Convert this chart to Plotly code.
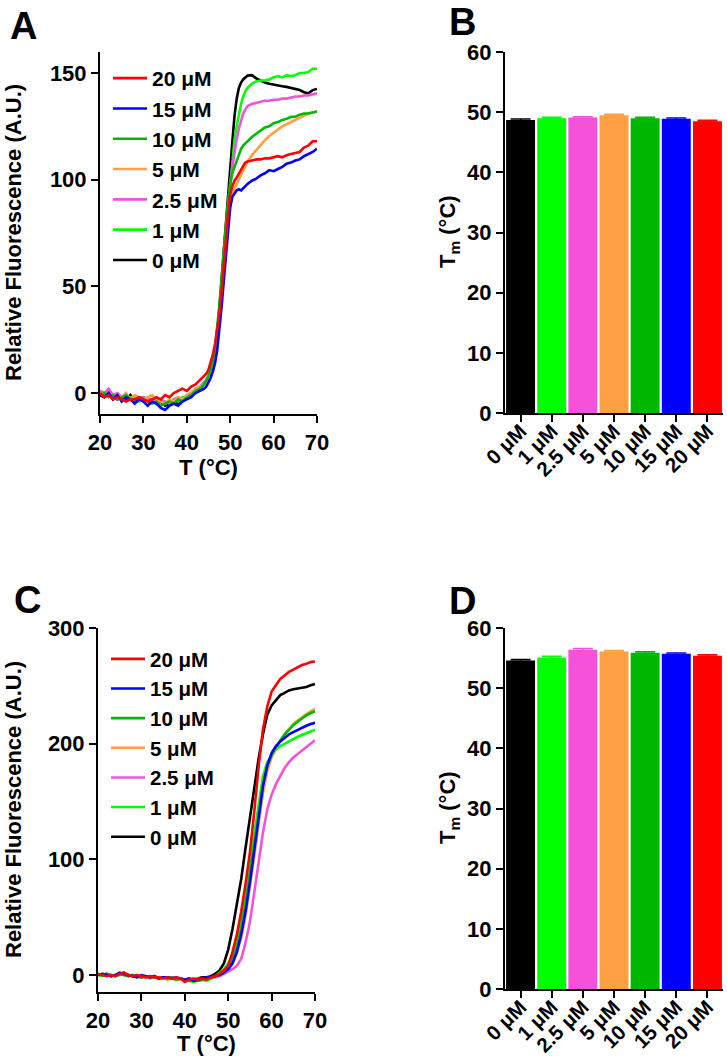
import plotly.graph_objects as go

FONT = "Liberation Sans"
labels = ["0 μM", "1 μM", "2.5 μM", "5 μM", "10 μM", "15 μM", "20 μM"]
colors = ["#000000", "#00ff00", "#f452d8", "#ffa044", "#00b800", "#0000ff", "#ff0000"]

# ---- Panel A: melting curves ----
T_A = [20, 21, 22, 23, 24, 25, 26, 27, 28, 29, 30, 31, 32, 33, 34, 35, 36, 37, 38, 39, 40, 41, 42, 43, 44,
       44.5, 45, 45.5, 46, 46.5, 47, 47.5, 48, 48.5, 49, 49.5, 50, 50.5, 51, 51.5, 52, 52.5, 53, 53.5, 54,
       55, 56, 57, 58, 59, 60, 61, 62, 63, 64, 65, 66, 67, 68, 69, 70]
A_0 = [-1, -2, 0, -1, -3, -2, -3, -1, -4, -3, -2, -4, -3, -5, -4, -6, -5, -4, -5, -3, -2, -1, 1, 2, 4,
       5, 7, 9, 13, 18, 27, 38, 52, 66, 80, 92, 105, 118, 130, 138, 143, 145.5, 147, 148, 148.8,
       149, 147.5, 146.5, 145.5, 145, 144.5, 144, 143.8, 143.5, 143, 142.5, 142, 141, 140.5, 142, 142.5]
A_1 = [0, -1, 1, -2, -1, -3, -2, -2, -3, -4, -3, -2, -4, -5, -3, -5, -4, -3, -4, -2, -2, 0, 1, 3, 4,
       5, 7, 10, 14, 20, 28, 38, 51, 64, 76, 85, 96, 110, 119, 125, 131, 135.5, 139, 141.5, 143,
       145, 146, 146.5, 146.5, 147, 148, 148.5, 148, 149, 148.5, 149, 150, 150, 150.5, 152, 152]
A_2p5 = [1, 0, 2, -1, 0, -2, -1, -3, -2, -3, -2, -3, -3, -4, -3, -4, -5, -3, -2, -3, -1, 0, 2, 3, 5,
         6, 8, 10, 14, 19, 27, 37, 50, 63, 76, 88, 98, 106, 113, 119, 124, 128, 131, 133, 134.5,
         135.5, 136, 136.5, 137, 137, 137.5, 137.5, 138, 138, 138.5, 139, 139, 139.5, 139.5, 140, 140.5]
A_5 = [0, -1, 0, -2, -1, -2, 0, -3, -1, -2, -3, -2, -1, -3, -4, -5, -3, -4, -2, -3, -1, 0, 2, 3, 4,
       5, 6, 8, 11, 16, 23, 33, 45, 58, 71, 82, 89, 93, 96, 98, 100, 102, 104, 106, 108.5,
       111.5, 114, 116, 118.5, 120.5, 122, 123.5, 125, 126, 127, 128, 129, 130, 131, 131.5, 132]
A_10 = [-1, 0, -2, -1, -3, -2, -1, -3, -4, -2, -3, -4, -5, -4, -6, -5, -4, -5, -3, -4, -2, -1, 1, 2, 4,
        6, 8, 11, 15, 21, 30, 41, 54, 67, 80, 90, 98, 103, 106, 109, 112, 114.5, 116, 117, 118,
        120, 121.5, 123, 124.5, 125, 126.5, 127, 128, 128.5, 129.5, 129.5, 130.5, 131, 131, 131.5, 132]
A_15 = [-1, -2, 0, -3, -1, -4, -2, -3, -5, -3, -4, -6, -4, -5, -7, -8, -6, -5, -6, -4, -3, -2, 0, 1, 2,
        3, 5, 7, 10, 14, 20, 29, 40, 52, 65, 77, 87, 92, 93.5, 95, 95.5, 95, 96, 97, 98,
        99.5, 100.5, 102, 103, 104.5, 104, 105, 106, 107.5, 108, 109, 109.5, 111, 112, 113, 114.5]
A_20 = [0, -2, -1, -3, -2, -3, -4, -3, -3, -2, -3, -4, -3, -2, -3, -1, -2, 0, 1, 2, 1, 3, 4, 6, 8,
        9, 11, 14, 18, 23, 29, 37, 47, 58, 71, 84, 93, 97, 99.5, 101, 103, 105, 106.5, 108, 108.5,
        109, 109.5, 109.5, 110, 110, 110.5, 111, 110.5, 111.5, 112, 112.5, 113, 115, 116, 118, 118]

# ---- Panel C: melting curves ----
T_C = [20, 21, 22, 23, 24, 25, 26, 27, 28, 29, 30, 31, 32, 33, 34, 35, 36, 37, 38, 39, 40, 41, 42, 43, 44,
       45, 46, 47, 48, 49, 50, 51, 52, 53, 54, 55, 56, 57, 58, 59, 60, 61, 62, 63, 64, 65, 66, 67, 68, 69, 70]
C_0 = [1, 0, 1, -1, 0, 1, 2, 0, -1, 0, -2, -1, -2, -1, -3, -2, -3, -2, -4, -3, -4, -3, -4, -3, -2, -2, -1, 1,
       4, 10, 22, 40, 61, 83, 110, 137, 163, 187, 208, 225, 233, 238, 242, 244, 246, 247, 247.5, 248.5, 249, 250.5, 251.5]
C_1 = [0, -1, 1, 0, -1, 0, 1, -1, 0, -2, -1, -2, -3, -2, -3, -2, -4, -3, -4, -3, -4, -5, -6, -5, -4, -5, -3, -1,
       2, 5, 10, 18, 31, 49, 71, 97, 124, 150, 172, 184, 190, 195, 198, 200, 202.5, 204, 206, 207.5, 209, 211, 212]
C_2p5 = [1, 0, 1, -1, 0, 1, 0, -1, 0, -1, -2, -1, -2, -1, -3, -2, -3, -2, -3, -4, -4, -3, -4, -3, -4, -3, -3, -2,
         -1, 1, 3, 5, 8, 14, 28, 46, 71, 98, 123, 143, 156, 165, 172, 179, 184, 188, 191, 194, 197, 200, 203]
C_5 = [0, 1, 0, -1, 0, 1, 2, 0, 0, -1, -1, -2, -1, -2, -2, -3, -2, -3, -3, -4, -4, -4, -3, -4, -4, -3, -2, -2,
       0, 2, 5, 10, 19, 32, 51, 75, 102, 130, 157, 176, 188, 196, 203, 208, 213, 217, 220, 223, 225.5, 228, 230]
C_10 = [1, 0, 1, 0, -1, 1, 0, -1, 0, -1, -2, -1, -1, -2, -3, -2, -3, -2, -4, -3, -4, -5, -4, -5, -4, -3, -2, -1,
        1, 3, 7, 13, 24, 40, 61, 86, 112, 140, 165, 181, 190, 197, 203, 208, 212, 216, 219, 222, 224.5, 226.5, 228]
C_15 = [0, 1, 0, -1, 0, 2, 1, 0, -1, -2, 0, -1, -2, -1, -3, -2, -2, -3, -2, -3, -4, -3, -5, -4, -3, -2, -2, -1,
        0, 2, 5, 10, 20, 35, 55, 80, 106, 135, 163, 181, 192, 198, 202, 205, 208, 210, 212, 214, 215.5, 217, 218]
C_20 = [1, 0, -1, 0, -1, 1, 2, 0, -1, 0, -1, -2, -1, -2, -2, -3, -2, -3, -2, -3, -6, -4, -3, -4, -3, -4, -2, -1,
        1, 4, 8, 20, 35, 55, 79, 106, 141, 180, 212, 232, 245, 251, 256, 259, 262, 264, 266, 268, 269, 270.5, 271]

# ---- Panels B and D: Tm bars ----
TM_B = [48.7, 49.0, 49.1, 49.5, 49.0, 48.9, 48.5]
TM_B_ERR = [0.15, 0.15, 0.15, 0.15, 0.15, 0.15, 0.15]
TM_D = [54.6, 55.1, 56.4, 56.1, 55.9, 55.7, 55.4]
TM_D_ERR = [0.15, 0.2, 0.2, 0.15, 0.15, 0.15, 0.15]

curves_A = [A_0, A_1, A_2p5, A_5, A_10, A_15, A_20]
curves_C = [C_0, C_1, C_2p5, C_5, C_10, C_15, C_20]

W, H = 727, 1058
def px(x):
    return x / W
def py(y):
    return 1 - y / H

fig = go.Figure()
for i in range(7):
    fig.add_trace(go.Scatter(x=T_A, y=curves_A[i], mode="lines", name=labels[i],
                             line=dict(color=colors[i], width=2.6), xaxis="x", yaxis="y",
                             legend="legend"))
for i in range(7):
    fig.add_trace(go.Scatter(x=T_C, y=curves_C[i], mode="lines", name=labels[i],
                             line=dict(color=colors[i], width=2.6), xaxis="x3", yaxis="y3",
                             legend="legend2"))
for i in range(7):
    fig.add_trace(go.Bar(x=[i], y=[TM_B[i]], width=0.93, marker=dict(color=colors[i], line=dict(width=0)),
                         error_y=dict(type="data", array=[TM_B_ERR[i]], color=colors[i], thickness=1.5, width=10),
                         xaxis="x2", yaxis="y2", showlegend=False))
    fig.add_trace(go.Bar(x=[i], y=[TM_D[i]], width=0.93, marker=dict(color=colors[i], line=dict(width=0)),
                         error_y=dict(type="data", array=[TM_D_ERR[i]], color=colors[i], thickness=1.5, width=10),
                         xaxis="x4", yaxis="y4", showlegend=False))

tickfont = dict(family=FONT, size=22, color="black", weight="bold")
bar_tickfont = dict(family=FONT, size=20.5, color="black", weight="bold")
common = dict(showline=True, linewidth=2, linecolor="black", ticks="outside", ticklen=7, tickwidth=2,
              tickcolor="black", showgrid=False, zeroline=False, tickfont=tickfont, fixedrange=True,
              automargin=False)
barx = {**common, "tickfont": bar_tickfont, "ticklabelstandoff": -11}

fig.update_layout(
    width=W, height=H, margin=dict(l=0, r=0, t=0, b=0, autoexpand=False),
    paper_bgcolor="white", plot_bgcolor="white", barmode="overlay",
    xaxis=dict(domain=[px(100), px(317)], range=[20, 70], tickvals=[20, 30, 40, 50, 60, 70], anchor="y", **common),
    yaxis=dict(domain=[py(414.3), py(51.7)], range=[-10, 160], tickvals=[0, 50, 100, 150], anchor="x", **common),
    xaxis2=dict(domain=[px(505), px(723)], range=[-0.5, 6.5], tickvals=list(range(7)), ticktext=labels,
                tickangle=-45, anchor="y2", **barx),
    yaxis2=dict(domain=[py(413), py(52)], range=[0, 60], tickvals=[0, 10, 20, 30, 40, 50, 60], anchor="x2", **common),
    xaxis3=dict(domain=[px(98), px(315)], range=[20, 70], tickvals=[20, 30, 40, 50, 60, 70], anchor="y3", **common),
    yaxis3=dict(domain=[py(992.4), py(628)], range=[-15, 300], tickvals=[0, 100, 200, 300], anchor="x3", **common),
    xaxis4=dict(domain=[px(505), px(723)], range=[-0.5, 6.5], tickvals=list(range(7)), ticktext=labels,
                tickangle=-45, anchor="y4", **barx),
    yaxis4=dict(domain=[py(989), py(628)], range=[0, 60], tickvals=[0, 10, 20, 30, 40, 50, 60], anchor="x4", **common),
    legend=dict(x=px(108), y=py(58), xanchor="left", yanchor="top", traceorder="reversed",
                bgcolor="rgba(0,0,0,0)", font=dict(family=FONT, size=21, color="black", weight="bold"),
                itemwidth=34),
    legend2=dict(x=px(106), y=py(639), xanchor="left", yanchor="top", traceorder="reversed",
                 bgcolor="rgba(0,0,0,0)", font=dict(family=FONT, size=20.5, color="black", weight="bold"),
                 itemwidth=34),
    showlegend=True,
)

ann_font = dict(family=FONT, size=22, color="black", weight="bold")
letter_font = dict(family=FONT, size=38, color="black", weight="bold")
annotations = [
    dict(text="A", x=px(24), y=py(26), font=letter_font),
    dict(text="B", x=px(462), y=py(22), font=letter_font),
    dict(text="C", x=px(27), y=py(600), font=letter_font),
    dict(text="D", x=px(462), y=py(601), font=letter_font),
    dict(text="Relative Fluorescence (A.U.)", x=px(13), y=py(233), textangle=-90, font=ann_font),
    dict(text="Relative Fluorescence (A.U.)", x=px(13), y=py(810), textangle=-90, font=ann_font),
    dict(text="T (°C)", x=px(208), y=py(467), font=ann_font),
    dict(text="T (°C)", x=px(206), y=py(1043), font=ann_font),
    dict(text="T<sub>m</sub> (°C)", x=px(449), y=py(232), textangle=-90, font=ann_font),
    dict(text="T<sub>m</sub> (°C)", x=px(449), y=py(808), textangle=-90, font=ann_font),
]
for a in annotations:
    a.update(xref="paper", yref="paper", xanchor="center", yanchor="middle", showarrow=False)
fig.update_layout(annotations=annotations)

# remove the default 8px page margin so the 727x1058 figure fills the window exactly
fig.write_html("out.html", config={"displayModeBar": False},
               post_script="document.body.style.margin='0px';")
